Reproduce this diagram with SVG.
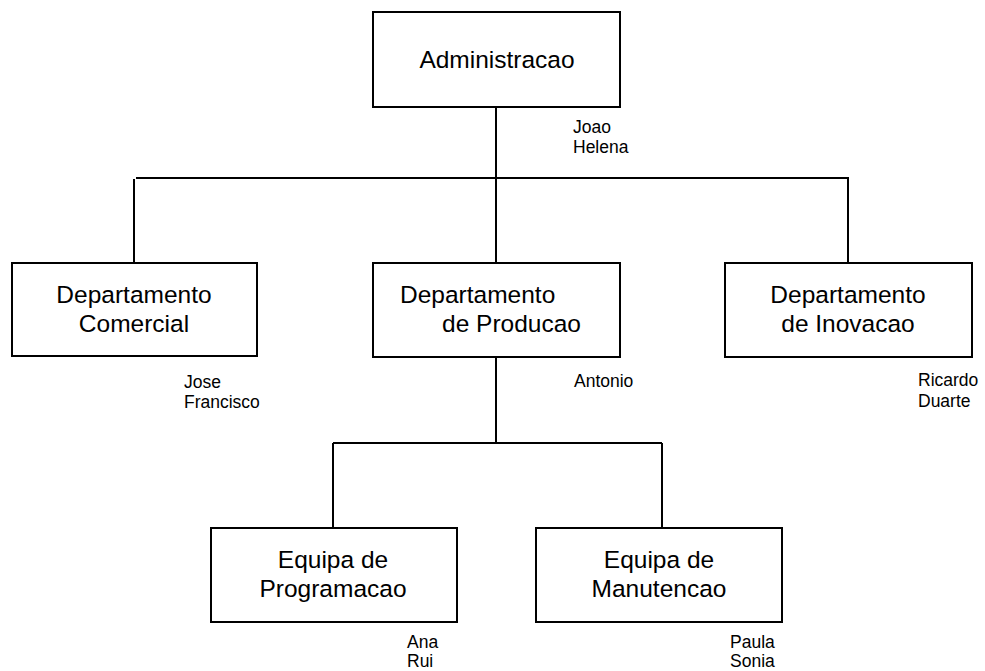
<svg xmlns="http://www.w3.org/2000/svg" width="985" height="671" viewBox="0 0 985 671">
<style>
.box{fill:#fff;stroke:#000;stroke-width:2}
.ln{stroke:#000;stroke-width:2;fill:none}
.big{font-family:"Liberation Sans",Arial,sans-serif;font-size:24.5px;fill:#000}
.sm{font-family:"Liberation Sans",Arial,sans-serif;font-size:17.5px;fill:#000}
.c{text-anchor:middle}
</style>
<rect width="985" height="671" fill="#fff"/>
<g id="connectors">
<path class="ln" d="M496 107V263M136 178H849M134 179V267M848 178V263M496 357V443M333 443H662M333 443V530M662 443V528"/>
</g>
<g id="admin">
<rect class="box" x="373" y="12" width="247" height="95"/>
<text class="big c" x="497" y="68">Administracao</text>
<text class="sm" x="573" y="133">Joao</text>
<text class="sm" x="573" y="153">Helena</text>
</g>
<g id="comercial">
<rect class="box" x="12" y="263" width="245" height="93"/>
<text class="big c" x="134" y="303">Departamento</text>
<text class="big c" x="134" y="332">Comercial</text>
<text class="sm" x="184" y="388">Jose</text>
<text class="sm" x="184" y="408">Francisco</text>
</g>
<g id="producao">
<rect class="box" x="373" y="263" width="247" height="94"/>
<text class="big" x="400" y="303">Departamento</text>
<text class="big" x="442" y="332">de Producao</text>
<text class="sm" x="574" y="387">Antonio</text>
</g>
<g id="inovacao">
<rect class="box" x="725" y="263" width="247" height="94"/>
<text class="big c" x="848" y="303">Departamento</text>
<text class="big c" x="848" y="332">de Inovacao</text>
<text class="sm" x="918" y="386">Ricardo</text>
<text class="sm" x="918" y="407">Duarte</text>
</g>
<g id="programacao">
<rect class="box" x="211" y="528" width="246" height="94"/>
<text class="big c" x="333" y="568">Equipa de</text>
<text class="big c" x="333" y="597">Programacao</text>
<text class="sm" x="407" y="648">Ana</text>
<text class="sm" x="407" y="667">Rui</text>
</g>
<g id="manutencao">
<rect class="box" x="536" y="528" width="246" height="94"/>
<text class="big c" x="659" y="568">Equipa de</text>
<text class="big c" x="659" y="597">Manutencao</text>
<text class="sm" x="730" y="648">Paula</text>
<text class="sm" x="730" y="667">Sonia</text>
</g>
</svg>
